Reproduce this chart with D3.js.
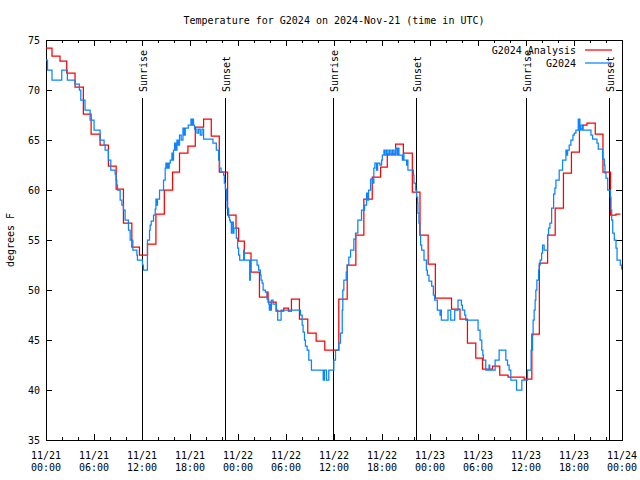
<!DOCTYPE html>
<html>
<head>
<meta charset="utf-8">
<script src="https://cdn.jsdelivr.net/npm/d3@7"></script>
<style>
  body { margin: 0; background: #fff; }
  text { font-family: "DejaVu Sans Mono", monospace; font-size: 10px; fill: #000; }
</style>
</head>
<body>
<svg id="chart" width="640" height="480"></svg>
<script>
// ---------------- data ----------------
const chartTitle = "Temperature for G2024 on 2024-Nov-21 (time in UTC)";
const yAxisLabel = "degrees F";
const seriesNames = ["G2024 Analysis", "G2024"];

const yTickValues = [35, 40, 45, 50, 55, 60, 65, 70, 75];
const xTickHours = [0, 6, 12, 18, 24, 30, 36, 42, 48, 54, 60, 66, 72];
const xTickDates = ["11/21", "11/21", "11/21", "11/21", "11/22", "11/22", "11/22", "11/22", "11/23", "11/23", "11/23", "11/23", "11/24"];
const xTickTimes = ["00:00", "06:00", "12:00", "18:00", "00:00", "06:00", "12:00", "18:00", "00:00", "06:00", "12:00", "18:00", "00:00"];

const sunLabels = ["Sunrise", "Sunset", "Sunrise", "Sunset", "Sunrise", "Sunset"];
const sunHours = [12.06, 22.45, 35.98, 46.37, 60.02, 70.41];

// hours since 2024-11-21 00:00 UTC (value holds until the next change)
const analysisHours = [0, 0.75, 1.75, 2.59, 3.63, 4.67, 5.64, 6.76, 7.80, 8.77, 9.68, 10.73, 11.68, 12.69, 13.74, 14.79, 15.82, 16.69, 17.74, 18.66, 19.70, 20.66, 21.66, 22.70,
  23.75, 24.08, 24.79, 25.63, 26.68, 27.64, 27.76, 28.76, 29.72, 30.30, 30.68, 31.68, 32.72, 33.77, 34.85, 36.60, 37.65, 38.73, 39.73, 40.78, 41.82, 42.66, 43.70, 44.67, 45.79, 46.75,
  47.77, 48.67, 50.69, 51.75, 52.68, 53.72, 54.56, 55.81, 56.72, 57.76, 59.77, 60.73, 61.67, 62.70, 63.65, 64.68, 65.68, 66.68, 67.12, 67.62, 68.66, 69.62, 70.56, 71.25, 71.80];
const analysisTemps = [74.2, 73.4, 72.9, 71.7, 70.3, 67.6, 65.6, 64.5, 62.4, 60.1, 56.7, 54.3, 53.5, 54.6, 57.6, 60.0, 61.8, 63.7, 64.4, 66.3, 67.1, 65.4, 61.8, 57.5,
  56.2, 54.9, 53.7, 51.8, 49.3, 49.8, 48.8, 47.9, 48.2, 47.9, 49.1, 47.1, 45.7, 44.9, 44.0, 49.1, 52.5, 55.5, 59.1, 61.3, 62.3, 63.6, 64.6, 63.7, 59.8, 55.5,
  52.6, 49.2, 48.1, 47.1, 44.7, 43.2, 42.1, 42.4, 41.5, 41.3, 41.1, 45.6, 52.7, 55.5, 58.2, 61.7, 63.8, 66.1, 66.5, 66.7, 65.6, 61.8, 57.5, 57.6, 57.6];

const stationHours = [0, 0.19, 0.75, 1.97, 2.67, 3.63, 4.17, 4.35, 4.88, 5.51, 6.01, 6.76, 7.26, 7.39, 7.80, 8.10, 8.64, 8.77, 8.85, 8.93, 9.27, 9.48, 9.68, 9.89,
  10.31, 10.52, 10.86, 11.36, 11.43, 12.06, 12.18, 12.68, 12.94, 13.02, 13.15, 13.44, 13.65, 13.74, 13.86, 13.94, 14.19, 14.69, 14.90, 14.99, 15.11, 15.19, 15.28, 15.40,
  15.53, 15.74, 15.84, 15.94, 16.07, 16.22, 16.37, 16.53, 16.69, 16.90, 17.12, 17.28, 17.41, 17.78, 18.12, 18.18, 18.24, 18.32, 18.37, 18.44, 18.57, 18.87, 19.07, 19.28,
  19.50, 19.70, 20.87, 21.29, 21.58, 21.70, 21.88, 22.20, 22.29, 22.41, 22.54, 22.63, 22.83, 22.95, 23.04, 23.17, 23.25, 23.42, 23.49, 23.79, 23.95, 24.08, 24.21, 24.71,
  24.79, 25.46, 25.54, 26.38, 26.58, 26.80, 26.88, 27.01, 27.14, 27.42, 27.64, 27.84, 27.92, 28.01, 28.09, 28.17, 28.39, 28.80, 28.96, 29.39, 31.81, 32.02, 32.14, 32.31,
  32.43, 32.64, 32.85, 33.18, 34.65, 34.81, 35.06, 35.35, 35.98, 36.19, 36.60, 36.81, 37.03, 37.10, 37.23, 37.53, 37.65, 37.85, 38.07, 38.48, 38.69, 38.98, 39.44, 39.82,
  40.07, 40.23, 40.32, 40.57, 40.82, 40.98, 41.11, 41.32, 41.45, 41.74, 41.95, 42.04, 42.24, 42.39, 42.57, 42.76, 42.95, 43.14, 43.33, 43.51, 43.70, 43.89, 44.01, 44.12,
  44.54, 44.67, 44.74, 45.08, 45.17, 45.24, 45.92, 45.99, 46.21, 46.33, 46.46, 46.49, 46.62, 46.74, 46.83, 46.96, 47.25, 47.55, 47.67, 47.87, 48.21, 48.42, 48.58, 48.92,
  49.25, 49.34, 49.42, 50.25, 50.59, 51.09, 51.50, 51.93, 52.05, 52.34, 52.47, 54.01, 54.26, 54.47, 54.60, 54.68, 54.97, 55.38, 55.47, 56.14, 56.64, 57.48, 57.69, 57.89,
  58.10, 58.82, 59.48, 60.19, 60.64, 60.82, 60.89, 61.02, 61.14, 61.23, 61.36, 61.57, 61.65, 61.77, 61.95, 62.07, 62.27, 62.70, 62.82, 62.99, 63.20, 63.45, 63.61, 63.74,
  64.15, 64.57, 64.99, 65.11, 65.20, 65.40, 65.61, 65.87, 66.03, 66.24, 66.53, 66.64, 66.69, 66.74, 66.87, 67.08, 68.12, 68.33, 68.87, 69.03, 69.58, 69.79, 69.87, 70.00,
  70.21, 70.54, 70.62, 70.71, 70.84, 71.04, 71.25, 71.38, 71.79, 71.96, 72.00];
const stationTemps = [73.0, 72.0, 71.0, 72.0, 71.0, 70.6, 70.0, 69.0, 68.0, 67.0, 66.0, 65.0, 64.5, 64.0, 63.0, 62.0, 61.6, 61.0, 60.5, 60.0, 59.0, 58.5, 58.0, 57.0,
  56.0, 55.0, 54.0, 53.5, 53.0, 52.5, 52.0, 55.0, 56.0, 56.5, 56.9, 57.5, 58.1, 59.1, 58.5, 59.1, 60.0, 61.0, 62.2, 62.7, 62.2, 62.7, 62.2, 62.7,
  63.0, 63.7, 63.0, 64.0, 64.7, 64.0, 65.0, 64.5, 65.5, 65.0, 66.2, 65.5, 66.2, 66.5, 67.1, 66.5, 67.1, 66.5, 67.1, 66.5, 66.1, 65.7, 66.1, 65.5,
  66.1, 65.1, 64.7, 64.0, 63.0, 62.2, 61.8, 61.5, 60.7, 60.1, 59.0, 58.2, 57.3, 57.0, 56.8, 55.7, 56.8, 55.7, 56.2, 55.2, 54.2, 53.5, 53.0, 54.0,
  53.0, 51.0, 53.0, 52.5, 52.0, 51.5, 51.0, 50.7, 50.0, 49.8, 49.1, 48.6, 48.0, 48.6, 48.0, 49.0, 48.6, 48.0, 47.0, 48.0, 47.5, 46.5, 45.8, 45.0,
  44.4, 44.0, 43.0, 42.0, 41.0, 42.0, 41.0, 42.0, 43.0, 44.0, 44.7, 45.7, 48.0, 50.0, 51.0, 51.8, 52.5, 53.3, 54.0, 55.1, 55.7, 57.0, 58.0, 58.5,
  59.7, 59.0, 60.0, 61.1, 60.7, 62.2, 62.7, 62.0, 62.7, 62.5, 63.0, 63.5, 64.0, 63.5, 64.0, 63.5, 64.0, 63.5, 64.0, 63.5, 64.2, 63.5, 64.2, 63.5,
  63.0, 63.7, 63.0, 62.5, 63.0, 62.0, 61.5, 60.7, 60.0, 59.3, 58.7, 57.7, 56.7, 55.5, 54.5, 54.0, 53.0, 52.0, 51.5, 50.9, 50.4, 49.5, 49.0, 48.0,
  47.5, 48.0, 47.0, 48.0, 47.0, 48.0, 49.0, 48.5, 48.0, 47.5, 47.0, 46.0, 45.0, 44.0, 43.5, 43.0, 42.0, 42.5, 42.0, 43.0, 44.0, 43.0, 42.5, 42.0,
  41.0, 40.0, 41.0, 42.0, 44.0, 45.5, 47.0, 48.0, 49.0, 50.0, 51.0, 52.0, 52.5, 53.0, 53.7, 54.5, 54.0, 55.5, 56.2, 56.7, 58.2, 59.6, 60.2, 61.0,
  62.0, 63.0, 64.0, 63.5, 64.0, 64.5, 65.0, 65.5, 65.7, 66.0, 67.1, 66.0, 67.1, 66.0, 66.5, 66.0, 65.5, 65.1, 64.7, 64.1, 63.1, 62.5, 61.7, 61.2,
  60.0, 59.3, 58.0, 57.0, 55.7, 55.0, 54.2, 53.0, 52.5, 52.2, 52.0];

// ---------------- chart ----------------
const svg = d3.select("#chart");
const L = 46, R = 622, T = 40, B = 440;
const x = d3.scaleLinear().domain([0, 72]).range([L, R]);
const y = d3.scaleLinear().domain([35, 75]).range([B, T]);

svg.append("rect").attr("width", 640).attr("height", 480).attr("fill", "#fff");

// title
svg.append("text").attr("x", 334).attr("y", 24).attr("text-anchor", "middle").text(chartTitle);

// y label
svg.append("text").attr("transform", "translate(14,240) rotate(-90)")
  .attr("text-anchor", "middle").text(yAxisLabel);

// axes (inward ticks, gnuplot style)
const minorHours = d3.range(0, 73, 2).filter(h => h % 6 !== 0);
const gB = svg.append("g").attr("transform", `translate(0,${B})`)
  .call(d3.axisBottom(x).tickValues(xTickHours).tickSize(-6).tickFormat(""));
const gBm = svg.append("g").attr("transform", `translate(0,${B})`)
  .call(d3.axisBottom(x).tickValues(minorHours).tickSize(-3).tickFormat(""));
const gT = svg.append("g").attr("transform", `translate(0,${T})`)
  .call(d3.axisTop(x).tickValues(xTickHours).tickSize(-6).tickFormat(""));
const gTm = svg.append("g").attr("transform", `translate(0,${T})`)
  .call(d3.axisTop(x).tickValues(minorHours).tickSize(-3).tickFormat(""));
const gL = svg.append("g").attr("transform", `translate(${L},0)`)
  .call(d3.axisLeft(y).tickValues(yTickValues).tickSize(-6).tickPadding(6).tickFormat(d3.format("d")));
const gR = svg.append("g").attr("transform", `translate(${R},0)`)
  .call(d3.axisRight(y).tickValues(yTickValues).tickSize(-6).tickFormat(""));
[gB, gBm, gT, gTm, gL, gR].forEach(g => {
  g.select(".domain").remove();
  g.selectAll("line").attr("stroke", "#000").attr("shape-rendering", "crispEdges");
  g.selectAll("text").style("font-family", "DejaVu Sans Mono, monospace").style("font-size", "10px");
});

// two-line x tick labels
const xl = svg.append("g");
xTickHours.forEach((h, i) => {
  xl.append("text").attr("x", x(h)).attr("y", 459).attr("text-anchor", "middle").text(xTickDates[i]);
  xl.append("text").attr("x", x(h)).attr("y", 471).attr("text-anchor", "middle").text(xTickTimes[i]);
});

// border
svg.append("rect").attr("x", L).attr("y", T).attr("width", R - L).attr("height", B - T)
  .attr("fill", "none").attr("stroke", "#000").attr("shape-rendering", "crispEdges");

// sunrise / sunset markers
const sg = svg.append("g");
sunHours.forEach((h, i) => {
  sg.append("line").attr("x1", x(h)).attr("x2", x(h)).attr("y1", 98).attr("y2", B)
    .attr("stroke", "#000").attr("shape-rendering", "crispEdges");
  sg.append("text").attr("transform", `translate(${x(h) + 4.5},92) rotate(-90)`)
    .attr("text-anchor", "start").text(sunLabels[i]);
});

// series
svg.append("clipPath").attr("id", "clip").append("rect")
  .attr("x", L).attr("y", T).attr("width", R - L).attr("height", B - T);
const line = d3.line().x(d => x(d[0])).y(d => y(d[1])).curve(d3.curveStepAfter);
const analysis = analysisHours.map((h, i) => [h, analysisTemps[i]]);
const station = stationHours.map((h, i) => [h, stationTemps[i]]);
const colors = ["#ff0000", "#0a84ff"];
const pg = svg.append("g").attr("clip-path", "url(#clip)");
pg.append("path").datum(analysis).attr("d", line).attr("fill", "none")
  .attr("stroke", colors[0]).attr("stroke-width", 1.25);
pg.append("path").datum(station).attr("d", line).attr("fill", "none")
  .attr("stroke", colors[1]).attr("stroke-width", 1.25);

// legend
const lg = svg.append("g");
seriesNames.forEach((n, i) => {
  const ly = 50 + i * 13;
  lg.append("text").attr("x", 576).attr("y", ly + 3.5).attr("text-anchor", "end").text(n);
  lg.append("line").attr("x1", 585).attr("x2", 612).attr("y1", ly).attr("y2", ly)
    .attr("stroke", colors[i]).attr("stroke-width", 1.25);
});
</script>
</body>
</html>
